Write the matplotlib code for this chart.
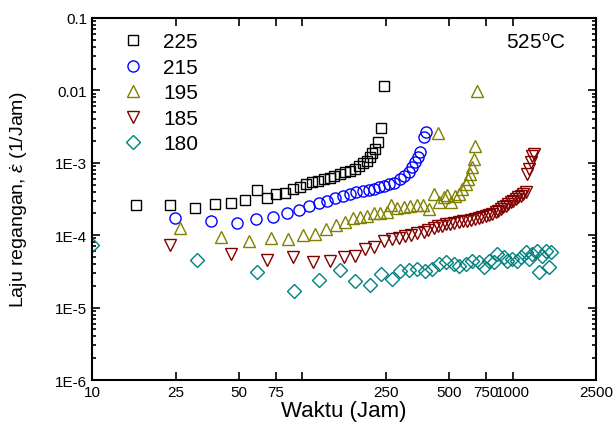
import numpy as np
import matplotlib
matplotlib.use('Agg')
import matplotlib.pyplot as plt
from matplotlib.ticker import FixedLocator, NullLocator, LogLocator, NullFormatter

plt.rcParams['font.family'] = ['Liberation Sans', 'DejaVu Sans']
plt.rcParams['mathtext.fontset'] = 'custom'
plt.rcParams['mathtext.rm'] = 'Liberation Sans'
plt.rcParams['mathtext.it'] = 'Liberation Sans:italic'

# data (time in hours, strain rate in 1/h)
t225 = [16.1, 23.5, 30.9, 38.4, 45.8, 53.2, 60.6, 68.1, 75.2, 82.3, 89.9, 97.1,
        104.5, 111.2, 118.8, 126.3, 134.9, 142.0, 151.7, 160.2, 169.2, 178.8,
        185.4, 194.5, 203.3, 210.8, 214.6, 221, 228.3, 237.7, 243.9]
e225 = [2.61e-4, 2.57e-4, 2.38e-4, 2.70e-4, 2.74e-4, 3.06e-4, 4.14e-4, 3.23e-4,
        3.71e-4, 3.79e-4, 4.28e-4, 4.59e-4, 5.09e-4, 5.38e-4, 5.66e-4, 5.97e-4,
        6.22e-4, 6.64e-4, 7.00e-4, 7.39e-4, 7.78e-4, 8.20e-4, 8.95e-4, 9.85e-4,
        1.07e-3, 1.19e-3, 1.35e-3, 1.55e-3, 1.95e-3, 3.03e-3, 1.16e-2]

t215 = [24.8, 36.8, 48.7, 60.4, 72.2, 84.5, 96.0, 108, 119.6, 131.1, 143.6,
        155.5, 168, 180.7, 194.5, 206.8, 218.6, 230.9, 243.9, 257.6, 274.2,
        290.6, 306, 320.8, 332.9, 345.2, 354.1, 364.6, 378.1, 389.4]
e215 = [1.73e-4, 1.56e-4, 1.45e-4, 1.65e-4, 1.76e-4, 2.03e-4, 2.23e-4, 2.51e-4,
        2.79e-4, 3.00e-4, 3.24e-4, 3.52e-4, 3.71e-4, 3.92e-4, 4.04e-4, 4.21e-4,
        4.35e-4, 4.59e-4, 4.78e-4, 5.02e-4, 5.26e-4, 5.97e-4, 6.64e-4, 7.53e-4,
        8.67e-4, 1.02e-3, 1.19e-3, 1.42e-3, 2.25e-3, 2.69e-3]

t195 = [26.2, 41.0, 55.7, 70.9, 85.8, 100.3, 115.3, 129.8, 144.9, 159.6, 174.3,
        188.9, 203.3, 218.6, 235.2, 253.1, 263.8, 282.5, 303.7, 326.7, 351.7,
        375.6, 399.4, 422, 445.9, 471, 488.7, 512.4, 535.1, 554.9, 575.9, 597.6,
        612.6, 626.2, 642.9, 654.2, 666.4, 443, 679]
e195 = [1.24e-4, 9.53e-5, 8.39e-5, 9.06e-5, 8.87e-5, 9.91e-5, 1.04e-4, 1.20e-4,
        1.37e-4, 1.52e-4, 1.71e-4, 1.77e-4, 1.86e-4, 2.01e-4, 2.03e-4, 2.07e-4,
        2.61e-4, 2.38e-4, 2.48e-4, 2.55e-4, 2.61e-4, 2.64e-4, 2.30e-4, 3.71e-4,
        2.85e-4, 3.34e-4, 3.59e-4, 2.85e-4, 3.52e-4, 3.71e-4, 4.35e-4, 5.09e-4,
        5.97e-4, 7.00e-4, 8.67e-4, 1.13e-3, 1.68e-3, 2.54e-3, 9.9e-3]

t185 = [23.5, 45.8, 68.1, 90.1, 112.4, 134.9, 157.3, 178.8, 199.5, 220.2, 243.9,
        267.4, 287.4, 309.3, 330.3, 351.7, 378.1, 398.1, 422, 441.9, 462.6,
        484.9, 506.5, 529.3, 554.9, 581, 608.4, 637.8, 666.4, 692.6, 717.6,
        743.7, 771.3, 800.2, 830, 853.4, 877.3, 901.8, 926.9, 952.9, 979.5,
        1007, 1035, 1064, 1092, 1122, 1153, 1175, 1196, 1218, 1241, 1263]
e185 = [7.32e-5, 5.50e-5, 4.54e-5, 4.95e-5, 4.22e-5, 4.40e-5, 4.95e-5, 5.16e-5,
        6.45e-5, 6.87e-5, 8.39e-5, 8.87e-5, 9.0e-5, 9.66e-5, 1.01e-4, 1.06e-4,
        1.10e-4, 1.18e-4, 1.26e-4, 1.32e-4, 1.35e-4, 1.41e-4, 1.43e-4, 1.48e-4,
        1.51e-4, 1.55e-4, 1.59e-4, 1.63e-4, 1.67e-4, 1.73e-4, 1.77e-4, 1.84e-4,
        1.90e-4, 1.98e-4, 2.07e-4, 2.18e-4, 2.30e-4, 2.43e-4, 2.55e-4, 2.70e-4,
        2.85e-4, 3.0e-4, 3.16e-4, 3.34e-4, 3.52e-4, 3.71e-4, 3.92e-4, 7.0e-4,
        8.2e-4, 1.02e-3, 1.23e-3, 1.32e-3]

t180 = [10.0, 31.5, 61.2, 90.9, 120.5, 150.9, 178.8, 209.1, 237.9, 267.4, 292.9,
        320.8, 351.7, 385.2, 414.5, 445.9, 484.9, 525, 554.9, 597.6, 642.9,
        691.1, 730, 771.3, 814.5, 845.7, 909.3, 943.5, 997, 1052, 1092, 1153,
        1196, 1241, 1311, 1334, 1384, 1436, 1489, 1528]
e180 = [7.32e-5, 4.54e-5, 3.15e-5, 1.72e-5, 2.38e-5, 3.34e-5, 2.35e-5, 2.08e-5,
        2.88e-5, 2.48e-5, 3.24e-5, 3.34e-5, 3.41e-5, 3.24e-5, 3.41e-5, 4.0e-5,
        4.22e-5, 4.0e-5, 3.79e-5, 4.0e-5, 4.45e-5, 4.22e-5, 3.60e-5, 4.45e-5,
        4.22e-5, 5.50e-5, 4.95e-5, 4.45e-5, 4.69e-5, 4.45e-5, 4.95e-5, 5.81e-5,
        4.69e-5, 5.50e-5, 6.11e-5, 3.08e-5, 5.21e-5, 6.11e-5, 3.60e-5, 5.92e-5]

series = [
    ('225', t225, e225, 's', '#000000', 7.5),
    ('215', t215, e215, 'o', '#0000ff', 8),
    ('195', t195, e195, '^', '#808000', 9),
    ('185', t185, e185, 'v', '#800000', 9),
    ('180', t180, e180, 'D', '#008080', 7),
]

xticks = [10, 25, 50, 75, 100, 250, 500, 750, 1000, 2500]
xlabels = ['10', '25', '50', '75', '', '250', '500', '750', '1000', '2500']

fig = plt.figure(figsize=(6.14, 4.39), dpi=100)
ax = fig.add_axes([0.150, 0.132, 0.821, 0.825])

for lab, t, e, m, c, ms in series:
    ax.plot(t, e, linestyle='none', marker=m, markersize=ms, markerfacecolor='none',
            markeredgecolor=c, markeredgewidth=1.0, label=lab)

ax.set_xscale('log')
ax.set_yscale('log')
ax.set_xlim(10, 2500)
ax.set_ylim(1e-6, 0.1)

ax.xaxis.set_major_locator(FixedLocator(xticks))
ax.xaxis.set_minor_locator(NullLocator())
ax.set_xticklabels(xlabels)
ax.set_yticks([1e-6, 1e-5, 1e-4, 1e-3, 1e-2, 1e-1])
ax.set_yticklabels(['1E-6', '1E-5', '1E-4', '1E-3', '0.01', '0.1'])
ax.yaxis.set_minor_locator(LogLocator(base=10, subs=np.arange(2, 10), numticks=20))
ax.yaxis.set_minor_formatter(NullFormatter())

ax.tick_params(which='both', direction='in', top=True, right=True, width=1.2, labelsize=11)
ax.tick_params(which='major', length=6)
ax.tick_params(which='minor', length=3)
for s in ax.spines.values():
    s.set_linewidth(1.5)

ax.set_xlabel('Waktu (Jam)', fontsize=16, labelpad=1)
ax.set_ylabel('Laju regangan, $\\dot{\\varepsilon}$ (1/Jam)', fontsize=14, labelpad=18)

ax.text(0.94, 0.935, '525$^{\\mathrm{o}}$C', transform=ax.transAxes, ha='right', va='center',
        fontsize=15)

ax.legend(loc='upper left', bbox_to_anchor=(0.022, 1.0), frameon=False, fontsize=15,
          handletextpad=0.67, labelspacing=0.31, borderaxespad=0.3, handlelength=1.5)

fig.savefig('out.png', dpi=100)
